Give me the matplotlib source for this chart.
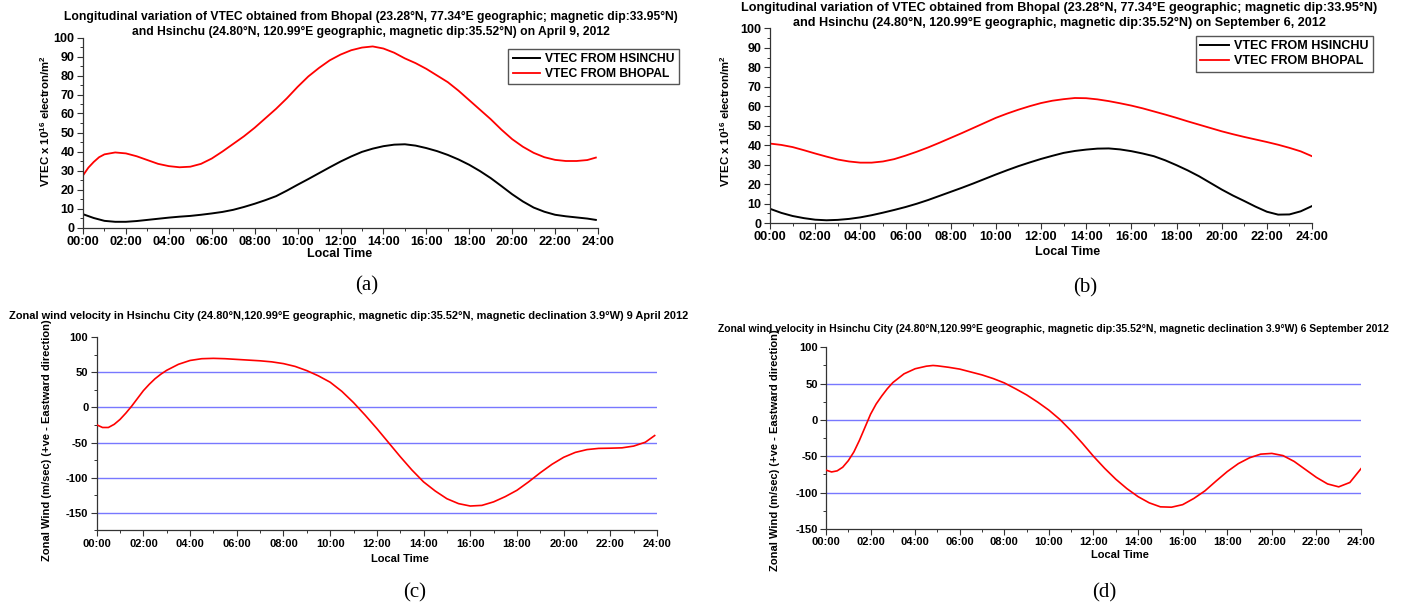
import matplotlib.pyplot as plt
from matplotlib.ticker import MultipleLocator, FuncFormatter

plt.rcParams['font.family'] = ['Liberation Sans', 'DejaVu Sans']
plt.rcParams['mathtext.fontset'] = 'custom'
plt.rcParams['mathtext.rm'] = 'Liberation Sans:bold'
plt.rcParams['mathtext.bf'] = 'Liberation Sans:bold'
plt.rcParams['mathtext.default'] = 'bf'
plt.rcParams['axes.unicode_minus'] = False

# (a) VTEC, April 9, 2012
hrs_a_bho = [0, 0.25, 0.5, 0.75, 1, 1.5, 2, 2.5, 3, 3.5, 4, 4.5, 5, 5.5, 6, 6.5, 7, 7.5, 8, 8.5,
             9, 9.5, 10, 10.5, 11, 11.5, 12, 12.5, 13, 13.5, 14, 14.5, 15, 15.5, 16, 16.5, 17,
             17.5, 18, 18.5, 19, 19.5, 20, 20.5, 21, 21.5, 22, 22.5, 23, 23.5, 23.9]
tec_a_bho = [27.4, 31.5, 34.5, 37, 38.5, 39.5, 39, 37.5, 35.5, 33.5, 32.3, 31.7, 32, 33.5, 36.3,
             40, 44, 48, 52.5, 57.5, 62.5, 68, 74, 79.5, 84, 88, 91, 93.3, 94.7, 95.3, 94.2, 92,
             89, 86.5, 83.5, 80, 76.5, 72, 67, 62, 57, 51.5, 46.5, 42.5, 39.3, 37, 35.6, 35, 35,
             35.5, 36.8]
hrs_a_hsi = [0, 0.5, 1, 1.5, 2, 2.5, 3, 3.5, 4, 4.5, 5, 5.5, 6, 6.5, 7, 7.5, 8, 8.5, 9, 9.5, 10,
             10.5, 11, 11.5, 12, 12.5, 13, 13.5, 14, 14.5, 15, 15.5, 16, 16.5, 17, 17.5, 18,
             18.5, 19, 19.5, 20, 20.5, 21, 21.5, 22, 22.5, 23, 23.5, 23.9]
tec_a_hsi = [7, 5, 3.5, 3, 3, 3.4, 4, 4.6, 5.2, 5.7, 6.1, 6.7, 7.4, 8.2, 9.3, 10.8, 12.5, 14.4,
             16.5, 19.4, 22.5, 25.5, 28.6, 31.7, 34.7, 37.4, 39.8, 41.5, 42.8, 43.6, 43.8, 43.1,
             41.8, 40.2, 38.2, 35.8, 33, 29.7, 26, 21.8, 17.5, 13.7, 10.5, 8.3, 6.7, 5.9, 5.3,
             4.7, 4]

# (b) VTEC, September 6, 2012
hrs_b = [0, 0.5, 1, 1.5, 2, 2.5, 3, 3.5, 4, 4.5, 5, 5.5, 6, 6.5, 7, 7.5, 8, 8.5, 9, 9.5, 10,
         10.5, 11, 11.5, 12, 12.5, 13, 13.5, 14, 14.5, 15, 15.5, 16, 16.5, 17, 17.5, 18, 18.5,
         19, 19.5, 20, 20.5, 21, 21.5, 22, 22.5, 23, 23.5, 24]
tec_b_bho = [40.8, 40.1, 39, 37.4, 35.7, 34.1, 32.6, 31.6, 31, 31, 31.6, 32.8, 34.6, 36.6, 38.8,
             41.2, 43.7, 46.2, 48.8, 51.4, 54, 56.2, 58.2, 60, 61.6, 62.8, 63.6, 64.2, 64.1,
             63.5, 62.6, 61.5, 60.3, 58.9, 57.3, 55.7, 54, 52.2, 50.5, 48.8, 47.1, 45.6, 44.2,
             42.9, 41.6, 40.2, 38.6, 36.8, 34.3]
tec_b_hsi = [7.3, 5.2, 3.6, 2.5, 1.7, 1.4, 1.6, 2.1, 2.9, 4, 5.3, 6.7, 8.2, 9.9, 11.8, 13.9, 16,
             18.1, 20.3, 22.6, 24.9, 27.1, 29.2, 31.1, 32.9, 34.5, 36, 37, 37.7, 38.2, 38.3,
             37.8, 36.9, 35.7, 34.3, 32.2, 29.7, 27, 24, 20.6, 17.2, 14.1, 11.3, 8.4, 5.8, 4.3,
             4.4, 6, 8.7]

# (c) zonal wind, 9 April 2012
hrs_c = [0, 0.25, 0.5, 0.75, 1, 1.25, 1.5, 1.75, 2, 2.25, 2.5, 2.75, 3, 3.5, 4, 4.5, 5, 5.5, 6,
         6.5, 7, 7.5, 8, 8.5, 9, 9.5, 10, 10.5, 11, 11.5, 12, 12.5, 13, 13.5, 14, 14.5, 15,
         15.5, 16, 16.5, 17, 17.5, 18, 18.5, 19, 19.5, 20, 20.5, 21, 21.5, 22, 22.5, 23, 23.5,
         23.9]
wind_c = [-24.7, -28.5, -28.5, -24, -17, -8, 2, 13, 24, 33, 41, 47.5, 53, 61.5, 67, 69.5, 70,
          69.5, 68.5, 67.5, 66.5, 65, 62.5, 58.5, 52.5, 45, 36, 23, 7, -11, -30, -50, -70, -89,
          -106, -119, -130, -137, -140.4, -139.5, -134.5, -127, -118, -106, -93, -81, -71,
          -64, -60, -58.3, -58, -57.5, -55, -49.5, -40]

# (d) zonal wind, 6 September 2012
hrs_d = [0, 0.25, 0.5, 0.75, 1, 1.25, 1.5, 1.75, 2, 2.25, 2.5, 2.75, 3, 3.5, 4, 4.5, 4.8, 5, 5.5,
         6, 6.5, 7, 7.5, 8, 8.5, 9, 9.5, 10, 10.5, 11, 11.5, 12, 12.5, 13, 13.5, 14, 14.5, 15,
         15.5, 16, 16.5, 17, 17.5, 18, 18.5, 19, 19.5, 20, 20.5, 21, 21.5, 22, 22.5, 23, 23.5,
         24]
wind_d = [-69, -71.5, -70, -65, -56, -44, -28, -10, 8, 22, 33, 43, 51.5, 63.5, 70.5, 74, 75,
          74.5, 72.5, 70, 66, 62, 57, 51, 43, 34.5, 24.5, 13.5, 0.5, -15, -32, -50, -66.5,
          -81.5, -94.5, -105.5, -114, -119.5, -120, -116.5, -108, -97.5, -84, -71, -60, -52,
          -47, -46, -49, -57, -68, -79, -88, -92, -86, -67]

title_top = ('Longitudinal variation of VTEC obtained from Bhopal (23.28°N, 77.34°E geographic; '
             'magnetic dip:33.95°N)')
title_a2 = 'and Hsinchu (24.80°N, 120.99°E geographic, magnetic dip:35.52°N) on April 9, 2012'
title_b2 = ('and Hsinchu (24.80°N, 120.99°E geographic, magnetic dip:35.52°N) '
            'on September 6, 2012')
title_c = ('Zonal wind velocity in Hsinchu City (24.80°N,120.99°E geographic, magnetic '
           'dip:35.52°N, magnetic declination 3.9°W) 9 April 2012')
title_d = ('Zonal wind velocity in Hsinchu City (24.80°N,120.99°E geographic, magnetic '
           'dip:35.52°N, magnetic declination 3.9°W) 6 September 2012')
tec_label = r'VTEC x 10$^{16}$ electron/m$^{2}$'
wind_label = 'Zonal Wind (m/sec) (+ve - Eastward direction)'

W, H = 1406, 608
fig = plt.figure(figsize=(W / 100, H / 100), dpi=100)


def box(l, t, r, b):
    return [l / W, 1 - b / H, (r - l) / W, (b - t) / H]


def ftext(x, y, s, **kw):
    fig.text(x / W, 1 - y / H, s, ha='center', va='center', **kw)


def hour_fmt(v, p):
    return '%02d:00' % int(round(v))


def style(ax, ylo, yhi, ymaj, ymin, xfs, yfs):
    ax.set_xlim(0, 24)
    ax.set_ylim(ylo, yhi)
    ax.xaxis.set_major_locator(MultipleLocator(2))
    ax.xaxis.set_minor_locator(MultipleLocator(1))
    ax.xaxis.set_major_formatter(FuncFormatter(hour_fmt))
    ax.yaxis.set_major_locator(MultipleLocator(ymaj))
    ax.yaxis.set_minor_locator(MultipleLocator(ymin))
    for s in ['top', 'right']:
        ax.spines[s].set_visible(False)
    for s in ['left', 'bottom']:
        ax.spines[s].set_color('#333333')
        ax.spines[s].set_linewidth(0.9)
    ax.tick_params(which='major', length=4, width=0.8, color='#333333', pad=2)
    ax.tick_params(which='minor', length=2, width=0.7, color='#333333')
    ax.tick_params(axis='x', labelsize=xfs)
    ax.tick_params(axis='y', labelsize=yfs)
    for lab in ax.get_xticklabels() + ax.get_yticklabels():
        lab.set_fontweight('bold')


leg_kw = dict(loc='upper right', frameon=True, fancybox=False, edgecolor='#555555',
              framealpha=1, borderpad=0.35, labelspacing=0.25, handlelength=2.3,
              handletextpad=0.4, borderaxespad=0)

# (a)
ax_a = fig.add_axes(box(83, 37.5, 598, 227.5))
ax_a.plot(hrs_a_hsi, tec_a_hsi, color='black', lw=1.4, label='VTEC FROM HSINCHU')
ax_a.plot(hrs_a_bho, tec_a_bho, color='#ff0000', lw=1.3, label='VTEC FROM BHOPAL')
style(ax_a, 0, 100, 10, 5, 9.2, 9)
ax_a.legend(bbox_to_anchor=((679 - 83) / 515, (227.5 - 49) / 190),
            prop={'weight': 'bold', 'size': 8.7}, **leg_kw)
ftext(371, 17, title_top, fontsize=8.7, fontweight='bold')
ftext(371, 31.5, title_a2, fontsize=8.7, fontweight='bold')
ftext(45, 121, tec_label, fontsize=8.2, fontweight='bold', rotation=90)
ftext(340, 254, 'Local Time', fontsize=9, fontweight='bold')
ftext(367, 286, '(a)', fontsize=15, family='Liberation Serif')

# (b)
ax_b = fig.add_axes(box(770, 28.3, 1312, 223))
ax_b.plot(hrs_b, tec_b_hsi, color='black', lw=1.4, label='VTEC FROM HSINCHU')
ax_b.plot(hrs_b, tec_b_bho, color='#ff0000', lw=1.3, label='VTEC FROM BHOPAL')
style(ax_b, 0, 100, 10, 5, 9.2, 9)
ax_b.legend(bbox_to_anchor=((1373 - 770) / 542, (223 - 36) / 194.7),
            prop={'weight': 'bold', 'size': 9}, **leg_kw)
ftext(1059, 8, title_top, fontsize=9.1, fontweight='bold')
ftext(1059, 22.5, title_b2, fontsize=9.1, fontweight='bold')
ftext(725, 121, tec_label, fontsize=8.2, fontweight='bold', rotation=90)
ftext(1068, 252, 'Local Time', fontsize=9, fontweight='bold')
ftext(1085, 288, '(b)', fontsize=15, family='Liberation Serif')

# (c)
ax_c = fig.add_axes(box(96.7, 337.3, 657, 530.3))
for lvl in [50, 0, -50, -100, -150]:
    ax_c.axhline(lvl, color='#7878ff', lw=1.0, zorder=1)
ax_c.plot(hrs_c, wind_c, color='#ff0000', lw=1.2, zorder=3)
style(ax_c, -175, 100, 50, 25, 8, 8)
ftext(349, 316, title_c, fontsize=7.9, fontweight='bold')
ftext(47, 440, wind_label, fontsize=8, fontweight='bold', rotation=90)
ftext(400, 559, 'Local Time', fontsize=8, fontweight='bold')
ftext(415, 593, '(c)', fontsize=15, family='Liberation Serif')

# (d)
ax_d = fig.add_axes(box(826, 347.3, 1361, 529))
for lvl in [50, 0, -50, -100]:
    ax_d.axhline(lvl, color='#7878ff', lw=1.0, zorder=1)
ax_d.plot(hrs_d, wind_d, color='#ff0000', lw=1.2, zorder=3)
style(ax_d, -150, 100, 50, 25, 8, 8)
ftext(1053, 329, title_d, fontsize=7.45, fontweight='bold')
ftext(775, 450, wind_label, fontsize=8, fontweight='bold', rotation=90)
ftext(1120, 555, 'Local Time', fontsize=8, fontweight='bold')
ftext(1104, 593, '(d)', fontsize=15, family='Liberation Serif')

fig.savefig('out.png', dpi=100)
